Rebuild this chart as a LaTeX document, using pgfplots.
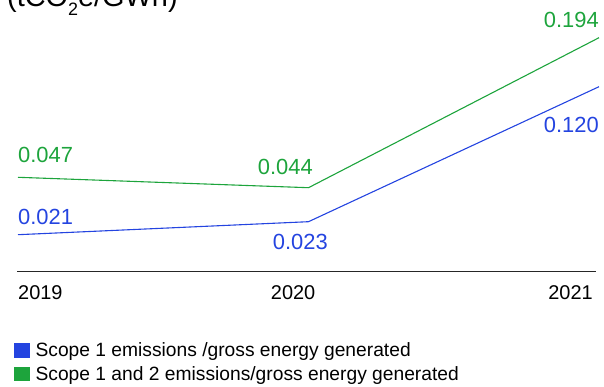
\documentclass[border=0pt]{standalone}
\usepackage{pgfplots}
\pgfplotsset{compat=1.18}
\usepackage{pgfplotstable}
\usepackage{fontspec}
\setmainfont{Liberation Sans}
\definecolor{sblue}{RGB}{36,68,224}
\definecolor{sgreen}{RGB}{29,164,60}
% x: 0=2019, 1=2020, 2=2021; pos = drawn height above baseline; value = label
\pgfplotstableread{
x pos value
0 36.3 0.021
1 49.3 0.023
2 184.3 0.120
}\scopeone
\pgfplotstableread{
x pos value
0 93.7 0.047
1 83.3 0.044
2 233.3 0.194
}\scopetwo
\begin{document}
\begin{tikzpicture}
\useasboundingbox (0,0) rectangle (604bp,387bp);
\clip (0,0) rectangle (604bp,387bp);
\begin{axis}[
  at={(18bp,116bp)}, anchor=south west,
  scale only axis, width=581bp, height=271bp,
  xmin=0, xmax=2, ymin=0, ymax=271,
  hide axis, clip=false,
  legend style={at={(-0.0069,-0.2657)}, anchor=north west, draw=none, fill=none,
    inner sep=0pt, outer sep=0pt,
    nodes={inner sep=0pt, text height=13bp, text depth=4bp, anchor=base west},
    row sep=6bp, column sep=0bp,
    font=\fontsize{19.3}{21}\selectfont},
  legend cell align=left,
  legend image code/.code={\fill[#1] (0bp,-0.5bp) rectangle (14.5bp,13bp); \path (20.5bp,0bp);},
]
\addplot[color=sblue, line width=1.1bp] table[x=x, y=pos] {\scopeone};
\addlegendentry{Scope 1 emissions /gross energy generated}
\addplot[color=sgreen, line width=1.1bp] table[x=x, y=pos] {\scopetwo};
\addlegendentry{Scope 1 and 2 emissions/gross energy generated}
\draw[black!85, line width=0.9bp] (axis cs:-0.0034,0) -- (axis cs:1.99,0);
\begin{scope}[every node/.style={inner sep=0pt, font=\fontsize{22}{24}\selectfont}]
\node[anchor=west, text=sgreen] at (axis cs:0,116) {0.047};
\node[anchor=west, text=sblue] at (axis cs:0,54) {0.021};
\node[anchor=east, text=sgreen] at (axis cs:1.0155,104) {0.044};
\node[anchor=east, text=sblue] at (axis cs:1.067,29) {0.023};
\node[anchor=east, text=sgreen] at (axis cs:2,251) {0.194};
\node[anchor=east, text=sblue] at (axis cs:2,146) {0.120};
\end{scope}
\begin{scope}[every node/.style={inner sep=0pt, font=\fontsize{20}{22}\selectfont}]
\node[anchor=west] at (axis cs:0,-21.5) {2019};
\node[anchor=center] at (axis cs:0.947,-21.5) {2020};
\node[anchor=east] at (axis cs:1.979,-21.5) {2021};
\end{scope}
\node[anchor=base west, inner sep=0pt, font=\fontsize{29}{31}\selectfont] at (axis cs:-0.0379,264) {(tCO\raisebox{-0.3em}{\fontsize{18}{18}\selectfont 2}e/GWh)};
\end{axis}
\end{tikzpicture}
\end{document}
